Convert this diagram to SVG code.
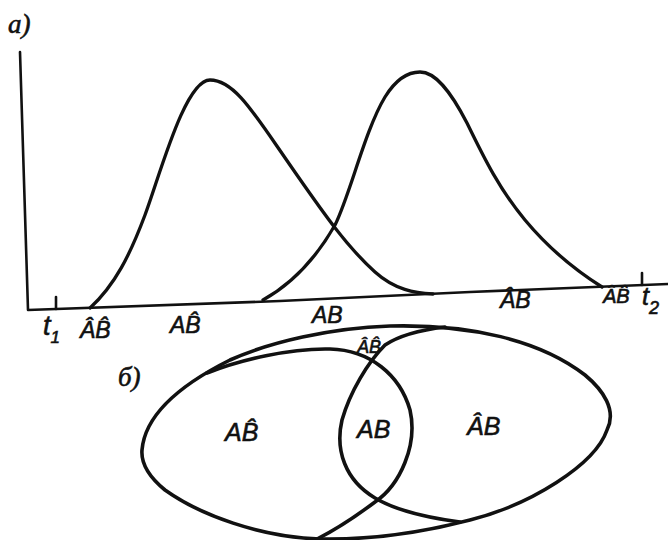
<svg xmlns="http://www.w3.org/2000/svg" width="668" height="540" viewBox="0 0 668 540">
<style>
.ln{fill:none;stroke:#111;stroke-linecap:round;stroke-linejoin:round}
.ax{stroke-width:2.6}
.cv{stroke-width:3.3}
.el{stroke-width:3.6}
.lb{font-family:"Liberation Sans","DejaVu Sans",sans-serif;font-style:italic;fill:#111;stroke:#111;stroke-width:0.6}
.pn{font-family:"Liberation Serif","DejaVu Serif",serif;font-style:italic;fill:#111;stroke:#111;stroke-width:0.6}
</style>
<rect width="668" height="540" fill="#fff"/>
<g id="panel-a">
  <text class="pn" x="8" y="33" font-size="27">а)</text>
  <g id="axes">
    <path class="ln ax" d="M20,52 L28,310 L280,301 L470,292 L668,284"/>
    <path class="ln ax" d="M56,297 L56,309"/>
    <path class="ln ax" d="M642,273 L642,285"/>
  </g>
  <g id="curves">
    <path class="ln cv" d="M90,308 C115,285 130,255 145,215 C160,175 185,80 210,80 C235,80 255,115 290,165 C320,208 345,245 375,272 C395,290 415,293 433,294"/>
    <path class="ln cv" d="M263,300 C290,285 315,260 335,225 C350,195 365,130 385,97 C398,76 410,72 420,72 C435,72 450,90 467,123 C485,160 500,190 525,220 C550,250 575,270 602,287"/>
  </g>
  <g id="axis-labels">
    <text class="lb" x="43" y="335" font-size="27">t<tspan font-size="17" dy="8">1</tspan></text>
    <text class="lb" x="80" y="338" font-size="23">&#xC2;B&#x302;</text>
    <text class="lb" x="170" y="333" font-size="23">AB&#x302;</text>
    <text class="lb" x="312" y="323" font-size="23">AB</text>
    <text class="lb" x="500" y="308" font-size="23">&#xC2;B</text>
    <text class="lb" x="603" y="303" font-size="20">&#xC2;B&#x302;</text>
    <text class="lb" x="642" y="305" font-size="25">t<tspan font-size="18" dy="9">2</tspan></text>
  </g>
</g>
<g id="panel-b">
  <text class="pn" x="118" y="386" font-size="27">б)</text>
  <g id="outer">
    <path class="ln el" d="M142,450 C145,415 180,385 230,360 C270,342 330,328 390,326 C470,324 540,340 585,375 C603,390 617,410 607,430 C595,465 530,505 470,520 C420,533 370,540 320,539 C260,537 200,515 165,490 C148,476 141,462 142,450 Z"/>
  </g>
  <g id="set-A">
    <path class="ln el" d="M207,373 C240,360 290,348 330,349 C370,350 400,375 410,410 C418,445 400,485 375,502 C355,517 335,530 317,539"/>
  </g>
  <g id="set-B">
    <path class="ln el" d="M460,522 C430,518 395,510 375,498 C345,480 335,450 342,420 C350,392 368,362 385,345 C400,335 420,330 445,327"/>
  </g>
  <g id="region-labels">
    <text class="lb" x="225" y="441" font-size="25">AB&#x302;</text>
    <text class="lb" x="357" y="438" font-size="25">AB</text>
    <text class="lb" x="467" y="435" font-size="25">&#xC2;B</text>
    <text class="lb" x="357" y="353" font-size="18">&#xC2;B&#x302;</text>
  </g>
</g>
</svg>
